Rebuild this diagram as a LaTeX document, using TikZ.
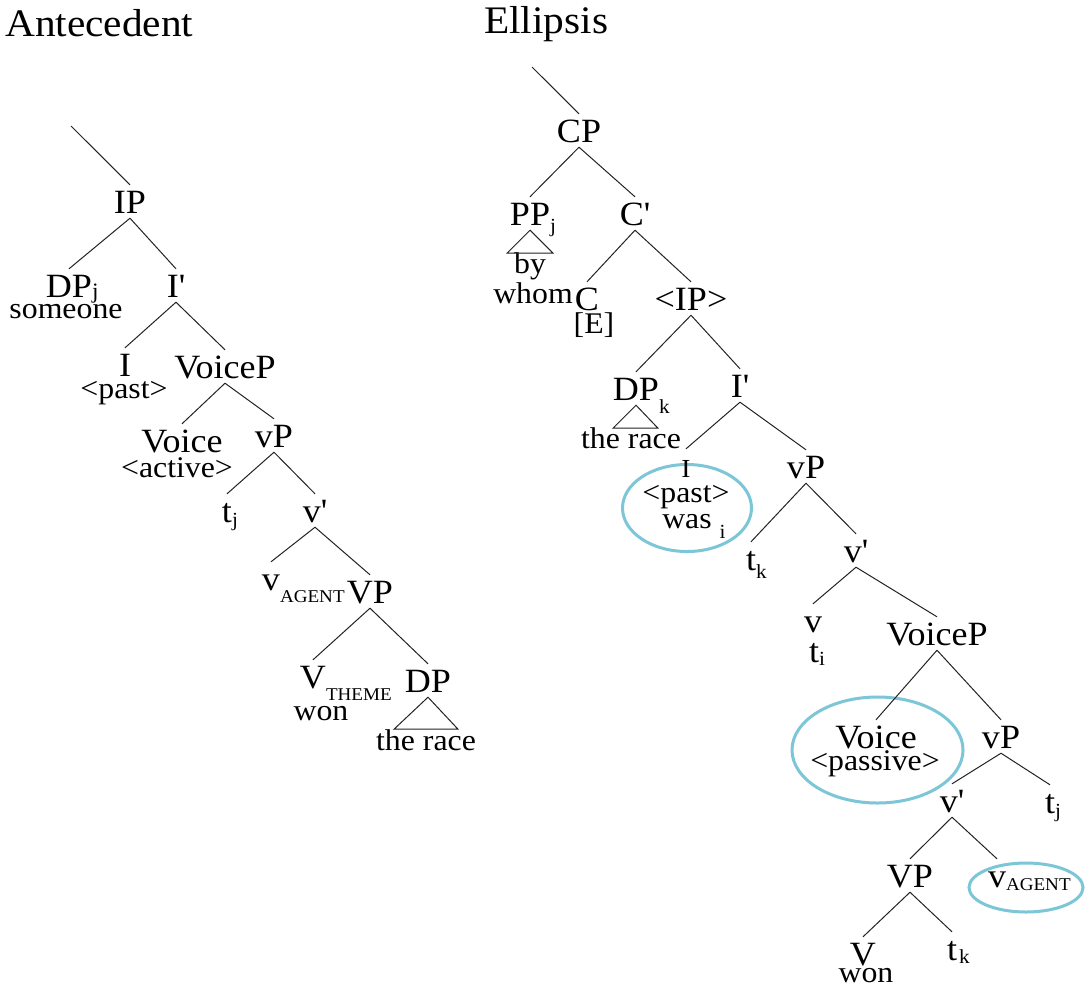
\documentclass[tikz,border=0pt]{standalone}
\usepackage{fontspec}
\setmainfont[FakeStretch=1.06]{Liberation Serif}
\usetikzlibrary{shapes.geometric}
\definecolor{ringblue}{RGB}{124,198,216}
\definecolor{branchc}{RGB}{35,35,35}
% subscript hanging off the right edge of a label: [size]{drop}{text}
\newcommand\lowsub[3][20]{\rlap{\raisebox{-#2}{\fontsize{#1}{#1}\selectfont #3}}}
\newcommand\prm{\textquotesingle}
\tikzset{
  lab/.style={font=\fontsize{34}{36}\selectfont, anchor=base, inner xsep=1pt,
              inner ysep=5pt, text height=23pt, text depth=0pt},
  word/.style={font=\fontsize{30}{32}\selectfont, anchor=base, inner sep=0pt},
  title/.style={font=\fontsize{39}{42}\selectfont, anchor=base west, inner sep=0pt},
  branch/.style={draw=branchc, line width=1pt},
  ring/.style={draw=ringblue, line width=3pt, ellipse, inner sep=0pt}
}
\begin{document}
\begin{tikzpicture}[x=1pt,y=-1pt]
\fill[white] (0,0) rectangle (1086,989);
\useasboundingbox (0,0) rectangle (1086,989);

% headings
\node[title] (tA) at (5,36) {Antecedent};
\node[title] (tE) at (484,33) {Ellipsis};

% highlight rings (drawn first so the text sits on top)
\node[ring, minimum width=129pt, minimum height=87pt] (bRing1) at (687,508) {};
\node[ring, minimum width=171pt, minimum height=106pt] (bRing2) at (877.5,750) {};
\node[ring, minimum width=114pt, minimum height=49pt] (bRing3) at (1026,887.5) {};

% ---------- antecedent tree ----------
\coordinate (rootA) at (71,126);
\node[lab] (aIP) at (130,213) {IP};
\node[lab] (aDP) at (69,297) {DP\lowsub[22]{1pt}{j}};
\node[word] (aDPw) at (66,318) {someone};
\node[lab] (aIb) at (176,297) {I\prm};
\node[lab] (aI) at (125,376) {I};
\node[word] (aIw) at (124,398) {\textless past\textgreater};
\node[lab] (aVoiceP) at (225,378) {VoiceP};
\node[lab] (aVoice) at (182,452) {Voice};
\node[word] (aVoicew) at (177,477) {\textless active\textgreater};
\node[lab] (avP) at (274,447) {vP};
\node[lab] (at) at (227,522) {t\lowsub{4pt}{j}};
\node[lab] (avb) at (315,522) {v\prm};
\node[lab] (av) at (271,590) {v\lowsub[18]{12pt}{AGENT}};
\node[lab] (aVP) at (370,603) {VP};
\node[lab] (aV) at (313,688) {V\lowsub[18]{12pt}{THEME}};
\node[word] (aVw) at (321,720) {won};
\node[lab] (aDPo) at (428,692) {DP};
\node[word] (aDPow) at (426,750) {the race};

\draw[branch] (rootA) -- (aIP.north);
\draw[branch] (aIP.south) -- (aDP.north);
\draw[branch] (aIP.south) -- (aIb.north);
\draw[branch] (aIb.south) -- (aI.north);
\draw[branch] (aIb.south) -- (aVoiceP.north);
\draw[branch] (aVoiceP.south) -- (aVoice.north);
\draw[branch] (aVoiceP.south) -- (avP.north);
\draw[branch] (avP.south) -- (at.north);
\draw[branch] (avP.south) -- (avb.north);
\draw[branch] (avb.south) -- (av.north);
\draw[branch] (avb.south) -- (aVP.north);
\draw[branch] (aVP.south) -- (aV.north);
\draw[branch] (aVP.south) -- (aDPo.north);
\draw[branch] (aDPo.south) -- ++(-34,32) -- ++(64,0) -- cycle;

% ---------- ellipsis tree ----------
\coordinate (rootE) at (532,67);
\node[lab] (bCP) at (579,142) {CP};
\node[lab] (bPP) at (530,225) {PP\lowsub{7pt}{j}};
\node[word] (bPPw1) at (530,273) {by};
\node[word] (bPPw2) at (533,303) {whom};
\node[lab] (bCb) at (635,225) {C\prm};
\node[lab] (bC) at (587,310) {C};
\node[word] (bCw) at (594,333) {[E]};
\node[lab] (bIP) at (691,310) {\textless IP\textgreater};
\node[lab] (bDP) at (636,400) {DP\lowsub{13pt}{k}};
\node[word] (bDPw) at (631,448) {the race};
\node[lab] (bIb) at (740,397) {I\prm};
\node[lab, font=\fontsize{26}{28}\selectfont] (bI) at (686,477) {I};
\node[word] (bIw1) at (686,502) {\textless past\textgreater};
\node[word] (bIw2) at (687,528) {was\lowsub{10pt}{\hspace{8pt}i}};
\node[lab] (bvP) at (806,478) {vP};
\node[lab] (bt1) at (751,570) {t\lowsub{8pt}{k}};
\node[lab] (bvb1) at (856,562) {v\prm};
\node[lab] (bv1) at (813,632) {v};
\node[lab] (bt2) at (814,662) {t\lowsub{3pt}{i}};
\node[lab] (bVoiceP) at (937,645) {VoiceP};
\node[lab] (bVoice) at (876,748) {Voice};
\node[word] (bVoicew) at (875,770) {\textless passive\textgreater};
\node[lab] (bvP2) at (1001,748) {vP};
\node[lab] (bvb2) at (952,812) {v\prm};
\node[lab] (bt3) at (1050,813) {t\lowsub{4pt}{j}};
\node[lab] (bVP) at (910,887) {VP};
\node[lab] (bv2) at (997,887) {v\lowsub[18]{3pt}{AGENT}};
\node[lab] (bV) at (863,965) {V};
\node[word] (bVw) at (866,982) {won};
\node[lab] (bt4) at (952,960) {t\lowsub{3pt}{\hspace{2pt}k}};

\draw[branch] (rootE) -- (bCP.north);
\draw[branch] (bCP.south) -- (bPP.north);
\draw[branch] (bCP.south) -- (bCb.north);
\draw[branch] (bPP.south) -- ++(-23,23) -- ++(46,0) -- cycle;
\draw[branch] (bCb.south) -- (bC.north);
\draw[branch] (bCb.south) -- (bIP.north);
\draw[branch] (bIP.south) -- (bDP.north);
\draw[branch] (bIP.south) -- (bIb.north);
\draw[branch] (bDP.south) -- ++(-23,23) -- ++(45,0) -- cycle;
\draw[branch] (bIb.south) -- (bI.north);
\draw[branch] (bIb.south) -- (bvP.north);
\draw[branch] (bvP.south) -- (bt1.north);
\draw[branch] (bvP.south) -- (bvb1.north);
\draw[branch] (bvb1.south) -- (bv1.north);
\draw[branch] (bvb1.south) -- (bVoiceP.north);
\draw[branch] (bVoiceP.south) -- (bVoice.north);
\draw[branch] (bVoiceP.south) -- (bvP2.north);
\draw[branch] (bvP2.south) -- (bvb2.north);
\draw[branch] (bvP2.south) -- (bt3.north);
\draw[branch] (bvb2.south) -- (bVP.north);
\draw[branch] (bvb2.south) -- (bv2.north);
\draw[branch] (bVP.south) -- (bV.north);
\draw[branch] (bVP.south) -- (bt4.north);
\end{tikzpicture}
\end{document}
